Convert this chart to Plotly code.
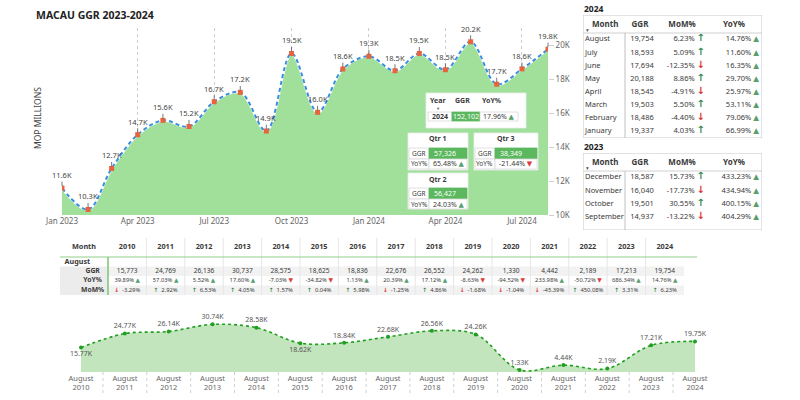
import plotly.graph_objects as go

# ---------------- data ----------------
months = ["2023-01-01", "2023-02-01", "2023-03-01", "2023-04-01", "2023-05-01", "2023-06-01",
          "2023-07-01", "2023-08-01", "2023-09-01", "2023-10-01", "2023-11-01", "2023-12-01",
          "2024-01-01", "2024-02-01", "2024-03-01", "2024-04-01", "2024-05-01", "2024-06-01",
          "2024-07-01", "2024-08-01"]
ggr_monthly = [11580, 10324, 12738, 14722, 15565, 15207, 16662, 17213, 14937, 19501, 16040, 18587,
               19337, 18486, 19503, 18545, 20188, 17694, 18593, 19754]
ggr_monthly_labels = ["11.6K", "10.3K", "12.7K", "14.7K", "15.6K", "15.2K", "16.7K", "17.2K", "14.9K",
                      "19.5K", "16.0K", "18.6K", "19.3K", "18.5K", "19.5K", "18.5K", "20.2K", "17.7K",
                      "18.6K", "19.8K"]
y_tickvals = [10000, 12000, 14000, 16000, 18000, 20000]
y_ticktext = ["10K", "12K", "14K", "16K", "18K", "20K"]

t24_month = ["August", "July", "June", "May", "April", "March", "February", "January"]
t24_ggr = [19754, 18593, 17694, 20188, 18545, 19503, 18486, 19337]
t24_mom = [6.23, 5.09, -12.35, 8.86, -4.91, 5.50, -4.40, 4.03]
t24_yoy = [14.76, 11.60, 16.35, 29.70, 25.97, 53.11, 79.06, 66.99]

t23_month = ["December", "November", "October", "September"]
t23_ggr = [18587, 16040, 19501, 14937]
t23_mom = [15.73, -17.73, 30.55, -13.22]
t23_yoy = [433.23, 434.94, 400.15, 404.29]

table_cols = ["Month", "GGR", "MoM%", "YoY%"]

year_label = "2024"
year_ggr = 152102
year_yoy = 17.96
qtr_names = ["Qtr 1", "Qtr 2", "Qtr 3"]
qtr_ggr = [57326, 56427, 38349]
qtr_yoy = [65.48, 24.03, -21.44]

aug_years = [2010, 2011, 2012, 2013, 2014, 2015, 2016, 2017, 2018, 2019, 2020, 2021, 2022, 2023, 2024]
aug_ggr = [15773, 24769, 26136, 30737, 28575, 18625, 18836, 22676, 26552, 24262, 1330, 4442, 2189, 17213, 19754]
aug_labels = ["15.77K", "24.77K", "26.14K", "30.74K", "28.58K", "18.62K", "18.84K", "22.68K", "26.56K",
              "24.26K", "1.33K", "4.44K", "2.19K", "17.21K", "19.75K"]
aug_yoy = [39.89, 57.03, 5.52, 17.60, -7.03, -34.82, 1.13, 20.39, 17.12, -8.63, -94.52, 233.98, -50.72, 686.34, 14.76]
aug_mom = [-3.29, 2.92, 6.53, 4.05, 1.57, 0.04, 5.98, -1.25, 4.86, -1.68, -1.04, -45.39, 450.08, 3.31, 6.23]
bottom_rows = ["August", "GGR", "YoY%", "MoM%"]

# ---------------- styles ----------------
FONT = "Noto Sans, DejaVu Sans, sans-serif"
TXT = "#3a3a3a"
GREEN_TRI = "#5a9e6e"
RED_TRI = "#e0393a"
GREEN_ARR = "#3a8a50"
RED_ARR = "#d9342b"
GREEN_CELL = "#5cb85e"
W, H = 800, 400


def px(x):
    return x / W


def py(y):
    return 1 - y / H


def tri(v):
    if v >= 0:
        return f'{v:.2f}% <span style="color:{GREEN_TRI}">▲</span>'
    return f'{v:.2f}% <span style="color:{RED_TRI}">▼</span>'


def arr_after(v):
    if v >= 0:
        return f'{v:.2f}% <span style="color:{GREEN_ARR};font-size:10px"><b>↑</b></span>'
    return f'{v:.2f}% <span style="color:{RED_ARR};font-size:10px"><b>↓</b></span>'


def arr_before(v):
    if v >= 0:
        return f'<span style="color:{GREEN_ARR}"><b>↑</b></span>  {v:.2f}%'
    return f'<span style="color:{RED_ARR}"><b>↓</b></span>  {v:.2f}%'


fig = go.Figure()
shapes = []
annotations = []


def text_trace(xa, ya, x, y, text, pos="middle center", size=8, color=TXT):
    fig.add_trace(go.Scatter(x=x, y=y, text=text, mode="text", textposition=pos,
                             textfont=dict(size=size, color=color, family=FONT),
                             xaxis=xa, yaxis=ya, hoverinfo="skip", showlegend=False,
                             cliponaxis=False))


# ---------------- main area chart ----------------
fig.add_trace(go.Scatter(x=months, y=ggr_monthly, mode="lines", fill="tozeroy",
                         fillcolor="#a0e09b", line=dict(color="white", width=2.6, shape="spline"),
                         hoverinfo="skip", showlegend=False, xaxis="x", yaxis="y"))
fig.add_trace(go.Scatter(x=months, y=ggr_monthly, mode="lines+markers",
                         line=dict(color="#3a8ee0", width=2, dash="4px,3px", shape="spline"),
                         marker=dict(symbol="square", size=5, color="#e8643c"),
                         hoverinfo="skip", showlegend=False, xaxis="x", yaxis="y"))
for m, v, lab in zip(months, ggr_monthly, ggr_monthly_labels):
    annotations.append(dict(x=m, y=v, xref="x", yref="y", text=lab, showarrow=True,
                            arrowhead=0, arrowwidth=0.8, arrowcolor="#555", ax=0, ay=-13,
                            standoff=2, font=dict(size=7.5, color="#444", family=FONT)))

# ---------------- bottom line chart ----------------
fig.add_trace(go.Scatter(x=aug_years, y=aug_ggr, mode="lines+markers+text", fill="tozeroy",
                         fillcolor="#c2e5bd",
                         line=dict(color="#1f9e1f", width=1.6, dash="3px,3px", shape="spline"),
                         marker=dict(size=4, color="#1f9e1f"),
                         text=aug_labels,
                         textposition=["bottom center" if i in (0, 5) else "top center"
                                       for i in range(len(aug_years))],
                         textfont=dict(size=7, color="#555", family=FONT),
                         hoverinfo="skip", showlegend=False, xaxis="x2", yaxis="y2",
                         cliponaxis=False))
for yr in aug_years[:-1]:
    shapes.append(dict(type="line", xref="x2", yref="paper", x0=yr + 0.5, x1=yr + 0.5,
                       y0=py(393), y1=py(372), line=dict(color="#cfcfcf", width=1, dash="dot")))

# ---------------- right tables ----------------
ROWH = 13.125
HDR = 18 / ROWH


def right_table(xa, ya, names, ggr, mom, yoy):
    n = len(names)
    rows = list(range(n))
    rc = [r + 0.5 for r in rows]
    text_trace(xa, ya, [9, 57, 99, 151], [-HDR / 2 + 0.05] * 4,
               [f"<b>{c}</b>" for c in table_cols],
               pos=["middle right", "middle center", "middle center", "middle center"], size=8)
    text_trace(xa, ya, [3], [-0.2], ["▾"], pos="middle right", size=5.5, color="#555")
    text_trace(xa, ya, [2] * n, rc, names, pos="middle right", size=7.5)
    text_trace(xa, ya, [59] * n, rc, [f"{v:,}" for v in ggr], pos="middle center", size=7.5)
    text_trace(xa, ya, [122] * n, rc, [arr_after(v) for v in mom], pos="middle left", size=7.5)
    text_trace(xa, ya, [176] * n, rc, [tri(v) for v in yoy], pos="middle left", size=7.5)


right_table("x3", "y3", t24_month, t24_ggr, t24_mom, t24_yoy)
right_table("x4", "y4", t23_month, t23_ggr, t23_mom, t23_yoy)
for xa, ya, bottom in (("x3", "y3", 8), ("x4", "y4", 4.5)):
    shapes.append(dict(type="rect", xref=xa, yref=ya, x0=0, x1=179, y0=-HDR, y1=bottom,
                       line=dict(color="#c8c8c8", width=1)))
    shapes.append(dict(type="line", xref=xa, yref=ya, x0=0, x1=179, y0=0, y1=0,
                       line=dict(color="#d0d0d0", width=1)))
    shapes.append(dict(type="line", xref=xa, yref=ya, x0=42, x1=42, y0=0, y1=bottom,
                       line=dict(color="#c0c0c0", width=1)))

# ---------------- bottom table ----------------
X5_LEFT, X5_RIGHT = 2008.25, 2024.84
shapes.append(dict(type="rect", xref="x5", yref="y5", x0=X5_LEFT, x1=2009.5, y0=0.5, y1=3.5,
                   fillcolor="#ececec", line=dict(width=0), layer="below"))
for r in (1, 3):
    shapes.append(dict(type="rect", xref="x5", yref="y5", x0=2009.5, x1=2024.5, y0=r - 0.5,
                       y1=r + 0.5, fillcolor="#f2f2f2", line=dict(width=0), layer="below"))
for yr in aug_years[:-1]:
    shapes.append(dict(type="line", xref="x5", yref="y5", x0=yr + 0.5, x1=yr + 0.5, y0=-2.5,
                       y1=3.5, line=dict(color="#e6e6e6", width=1)))
shapes.append(dict(type="line", xref="x5", yref="y5", x0=X5_LEFT, x1=X5_RIGHT, y0=-0.5, y1=-0.5,
                   line=dict(color="#8fcf8a", width=1)))
shapes.append(dict(type="line", xref="x5", yref="y5", x0=2009.5, x1=2009.5, y0=-0.5, y1=3.5,
                   line=dict(color="#7cc47a", width=1.5)))

text_trace("x5", "y5", [2008.875] + aug_years, [-1.5] * (len(aug_years) + 1),
           ["<b>Month</b>"] + [f"<b>{y}</b>" for y in aug_years], size=7.3)
text_trace("x5", "y5", [X5_LEFT + 0.12], [0], [f"<b>{bottom_rows[0]}</b>"], pos="middle right", size=7.2)
text_trace("x5", "y5", [2009.1] * 3, [1, 2, 3], [f"<b>{r}</b>" for r in bottom_rows[1:]], size=6.8)
text_trace("x5", "y5", aug_years, [1] * len(aug_years), [f"{v:,}" for v in aug_ggr], size=6.6)
text_trace("x5", "y5", aug_years, [2] * len(aug_years), [tri(v) for v in aug_yoy], size=5.8)
text_trace("x5", "y5", aug_years, [3] * len(aug_years), [arr_before(v) for v in aug_mom], size=5.8)


# ---------------- insets ----------------
def rect(x0, y0, x1, y1, fill="white", line="#d8d8d8", lw=0.8):
    shapes.append(dict(type="rect", xref="paper", yref="paper", x0=px(x0), x1=px(x1),
                       y0=py(y1), y1=py(y0), fillcolor=fill, line=dict(color=line, width=lw),
                       layer="above"))


def label(x, y, text, size=7, color=TXT, bold=False, xanchor="center", angle=0):
    annotations.append(dict(xref="paper", yref="paper", x=px(x), y=py(y),
                            text=f"<b>{text}</b>" if bold else text, showarrow=False,
                            font=dict(size=size, color=color, family=FONT), xanchor=xanchor,
                            yanchor="middle", textangle=angle, borderpad=0))


rect(426, 93, 526, 128, line="#ececec")
label(438, 100, "Year", bold=True)
label(438, 108, "▾", size=4.5, color="#555")
label(462, 100, "GGR", bold=True)
label(492, 100, "YoY%", bold=True)
rect(428, 112, 452, 121)
rect(452, 112, 480, 121, fill=GREEN_CELL, line=GREEN_CELL)
rect(480, 112, 518, 121)
label(440, 116.5, year_label, bold=True)
label(466, 116.5, f"{year_ggr:,}", color="white")
label(499, 116.5, tri(year_yoy))


def qtr_box(x0, y0, x1, y1, name, ggr, yoy):
    rect(x0, y0, x1, y1, line="#ececec")
    label((x0 + x1) / 2, y0 + 6, name, bold=True)
    split = x0 + 21
    r1, r2, r3 = y0 + 15, y0 + 26, y0 + 36
    rect(x0 + 1, r1, split, r2)
    rect(split, r1, x1 - 1, r2, fill=GREEN_CELL, line=GREEN_CELL)
    rect(x0 + 1, r2, split, r3)
    rect(split, r2, x1 - 1, r3)
    label((x0 + 1 + split) / 2, (r1 + r2) / 2, "GGR", size=6.5)
    label(split + 4, (r1 + r2) / 2, f"{ggr:,}", color="white", xanchor="left")
    label((x0 + 1 + split) / 2, (r2 + r3) / 2, "YoY%", size=6.5)
    label(split + 3, (r2 + r3) / 2, tri(yoy), xanchor="left")


qtr_box(408, 133, 468, 170, qtr_names[0], qtr_ggr[0], qtr_yoy[0])
qtr_box(474, 133, 538, 170, qtr_names[2], qtr_ggr[2], qtr_yoy[2])
qtr_box(408, 173, 468, 209, qtr_names[1], qtr_ggr[1], qtr_yoy[1])

# titles
label(35, 15, "MACAU GGR 2023-2024", size=10.5, color="#222", bold=True, xanchor="left")
label(38, 118, "MOP MILLIONS", size=8.5, color="#444", angle=-90)
label(583, 8, "2024", size=8.5, color="#222", bold=True, xanchor="left")
label(583, 146, "2023", size=8.5, color="#222", bold=True, xanchor="left")

hidden = dict(visible=False, showgrid=False, zeroline=False, automargin=False)
fig.update_layout(
    width=W, height=H, margin=dict(l=0, r=0, t=0, b=0, autoexpand=False),
    paper_bgcolor="white", plot_bgcolor="rgba(0,0,0,0)",
    font=dict(family=FONT, color=TXT), showlegend=False,
    xaxis=dict(domain=[px(62), px(548)], anchor="y", type="date", automargin=False,
               range=[months[0], months[-1]], dtick="M3", tick0=months[0], tickformat="%b %Y",
               showgrid=True, gridcolor="#cccccc", griddash="dot", gridwidth=1,
               zeroline=False, showline=False, ticks="", tickfont=dict(size=8, color="#666")),
    yaxis=dict(domain=[py(215), py(28)], anchor="x", side="right", range=[10000, 21000],
               automargin=False,
               tickvals=y_tickvals, ticktext=y_ticktext, showgrid=False, zeroline=False,
               ticks="outside", ticklen=5, tickcolor="#d0d0d0",
               tickfont=dict(size=8, color="#666")),
    xaxis2=dict(domain=[px(81), px(695)], anchor="y2", range=[aug_years[0], aug_years[-1]],
                automargin=False,
                tickvals=aug_years, ticktext=[f"August<br>{y}" for y in aug_years],
                showgrid=False, zeroline=False, ticks="", tickfont=dict(size=7.5, color="#666")),
    yaxis2=dict(domain=[py(372), py(310)], anchor="x2", range=[0, 40000], **hidden),
    xaxis3=dict(domain=[px(583), px(762)], anchor="y3", range=[0, 179], **hidden),
    yaxis3=dict(domain=[py(138), py(15)], anchor="x3", range=[8, -HDR], **hidden),
    xaxis4=dict(domain=[px(583), px(762)], anchor="y4", range=[0, 179], **hidden),
    yaxis4=dict(domain=[py(230), py(153)], anchor="x4", range=[(230 - 171) / ROWH, -HDR], **hidden),
    xaxis5=dict(domain=[px(60), px(697)], anchor="y5", range=[X5_LEFT, X5_RIGHT], **hidden),
    yaxis5=dict(domain=[py(295), py(238)], anchor="x5", range=[3.5, -2.5], **hidden),
    shapes=shapes, annotations=annotations,
)

# remove the browser's default 8px body margin so the 800x400 figure fills the window
fig.write_html("out.html", config={"displayModeBar": False},
               post_script="document.body.style.margin='0px';")
